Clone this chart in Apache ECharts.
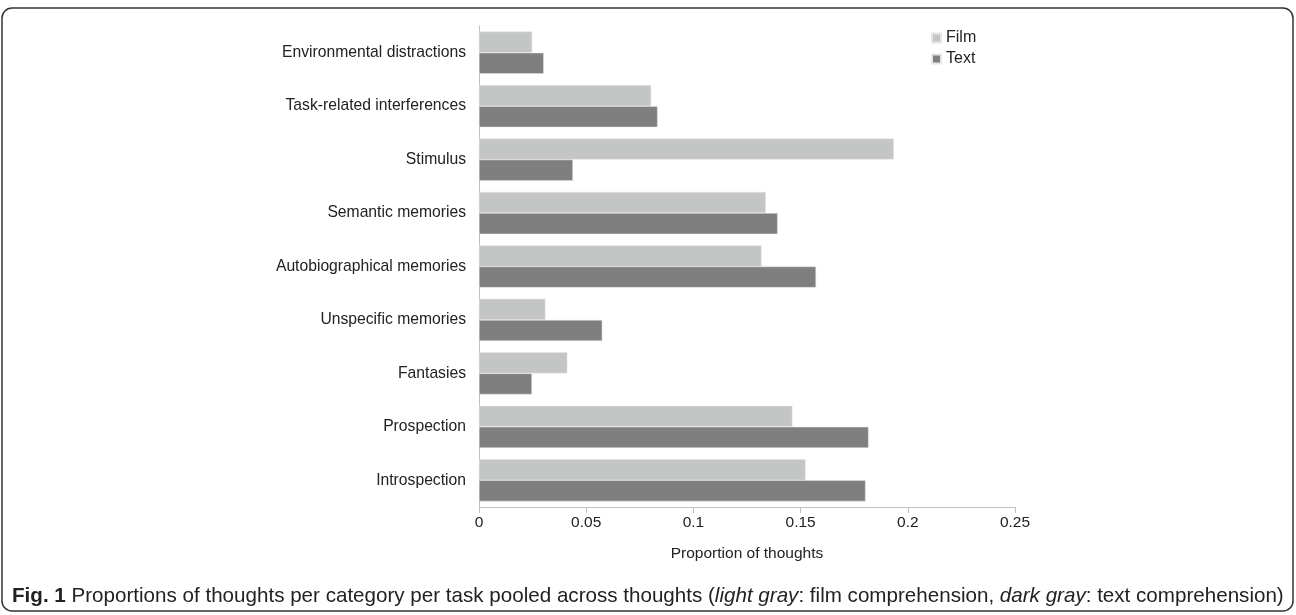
<!DOCTYPE html>
<html><head><meta charset="utf-8">
<script src="https://cdn.jsdelivr.net/npm/echarts@6/dist/echarts.min.js"></script>
<style>html,body{margin:0;padding:0;background:#fff}#c{width:1296px;height:615px}</style>
</head><body><div id="c"></div>
<script>
const categories = ["Environmental distractions","Task-related interferences","Stimulus","Semantic memories","Autobiographical memories","Unspecific memories","Fantasies","Prospection","Introspection"];
const filmValues = [0.0248,0.0803,0.1935,0.1338,0.1318,0.0310,0.0412,0.1462,0.1523];
const textValues = [0.0302,0.0833,0.0438,0.1393,0.1572,0.0575,0.0247,0.1817,0.1803];
const xTicks = [0,0.05,0.1,0.15,0.2,0.25];
const chart = echarts.init(document.getElementById('c'));
const F = 'Liberation Sans, Arial, sans-serif';
chart.setOption({
  animation:false,
  textStyle:{fontFamily:F},
  grid:{left:479,right:281,top:26,bottom:108,containLabel:false},
  legend:{orient:'vertical',left:926,top:25,itemWidth:9,itemHeight:9,itemGap:5,icon:'rect',
    textStyle:{fontSize:16,color:'#222',fontFamily:F},data:['Film','Text']},
  xAxis:{type:'value',min:0,max:0.25,interval:0.05,
    name:'Proportion of thoughts',nameLocation:'middle',nameGap:39,
    nameTextStyle:{fontSize:15.5,color:'#222'},
    axisLine:{show:true,lineStyle:{color:'#bfbfbf'}},
    axisTick:{show:true,length:6,lineStyle:{color:'#bfbfbf'}},
    axisLabel:{fontSize:15.5,color:'#222',margin:8,formatter:v=>String(+v.toFixed(2))},
    splitLine:{show:false}},
  yAxis:{type:'category',data:categories,inverse:true,
    axisLine:{show:true,lineStyle:{color:'#bfbfbf'}},
    axisTick:{show:false},
    axisLabel:{fontSize:15.7,color:'#222',margin:13}},
  series:[
    {name:'Film',type:'bar',data:filmValues,barCategoryGap:'21%',barGap:'0%',
     itemStyle:{color:'#c4c6c5',borderColor:'#e6e6e6',borderWidth:0.5}},
    {name:'Text',type:'bar',data:textValues,barCategoryGap:'21%',barGap:'0%',
     itemStyle:{color:'#7f7f7f',borderColor:'#e6e6e6',borderWidth:0.5}}
  ],
  graphic:[
    {type:'rect',shape:{x:2,y:8,width:1291,height:603,r:10},style:{fill:'none',stroke:'#333',lineWidth:1.5},silent:true},
    {type:'text',left:12,top:586,style:{
      rich:{b:{fontWeight:'bold',fontSize:20.6,fill:'#222',fontFamily:F},
            n:{fontSize:20.6,fill:'#222',fontFamily:F},
            i:{fontStyle:'italic',fontSize:20.6,fill:'#222',fontFamily:F}},
      text:'{b|Fig. 1}{n| Proportions of thoughts per category per task pooled across thoughts (}{i|light gray}{n|: film comprehension, }{i|dark gray}{n|: text comprehension)}'
    }}
  ]
});
</script></body></html>
